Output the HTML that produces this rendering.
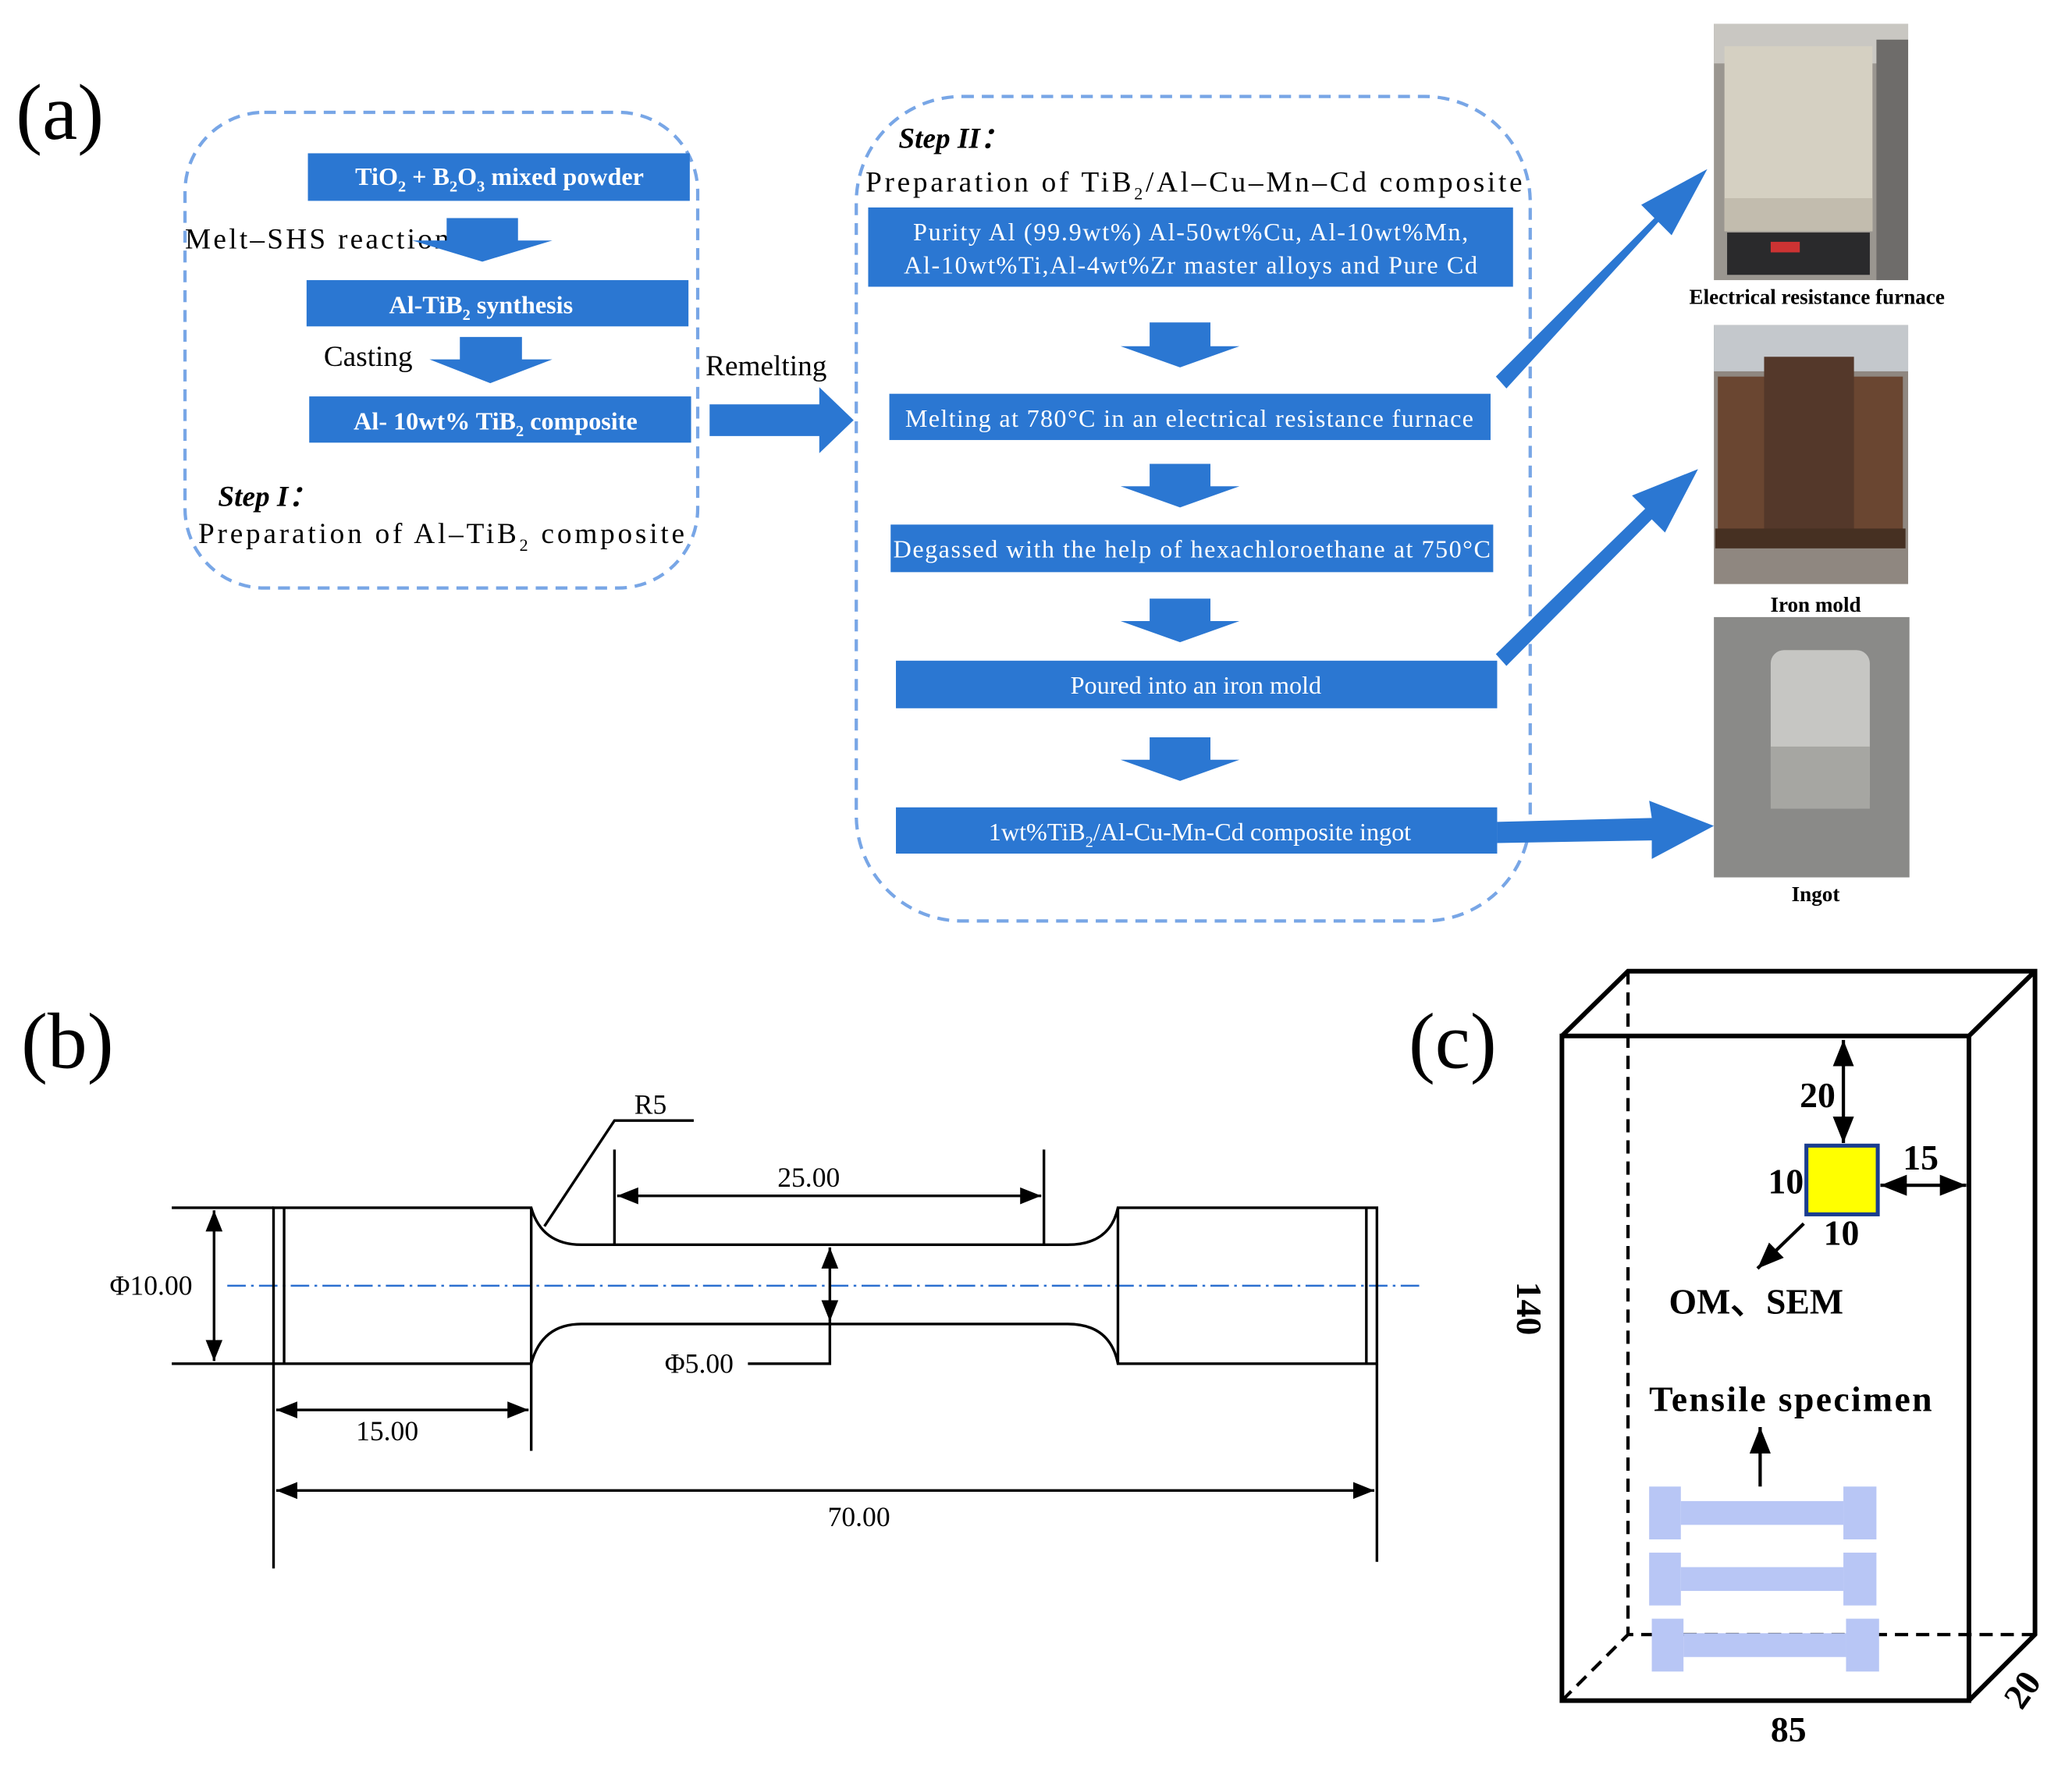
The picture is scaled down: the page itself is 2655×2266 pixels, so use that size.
<!DOCTYPE html>
<html><head><meta charset="utf-8"><style>
html,body{margin:0;padding:0;background:#fff}
svg{display:block}
text{font-family:"Liberation Serif",serif}
.bx{fill:#2b77d2}
.wt{fill:#fff;font-size:19px;font-family:"Liberation Serif",serif}
.wb{fill:#fff;font-size:19px;font-weight:bold;font-family:"Liberation Serif",serif}
.ln{stroke:#000;stroke-width:2;fill:none}
.dm{stroke:#000;stroke-width:2;fill:none}
</style></head><body>
<svg width="2655" height="2266" viewBox="0 0 1568 1338" preserveAspectRatio="none" xmlns="http://www.w3.org/2000/svg">
<defs>
<marker id="ah" viewBox="0 0 10 10" refX="10" refY="5" markerWidth="8" markerHeight="8" orient="auto-start-reverse"><path d="M0,1 L10,5 L0,9 Z" fill="#000"/></marker>
</defs>
<!-- (a) -->
<text x="12" y="105" font-size="60">(a)</text>
<rect x="140" y="85" width="388" height="360" rx="60" fill="none" stroke="#78a6e6" stroke-width="2.5" stroke-dasharray="9,6"/>
<rect class="bx" x="233" y="116" width="289" height="36"/>
<text class="wb" x="378" y="140" text-anchor="middle">TiO<tspan font-size="12" dy="5">2</tspan><tspan dy="-5"> + B</tspan><tspan font-size="12" dy="5">2</tspan><tspan dy="-5">O</tspan><tspan font-size="12" dy="5">3</tspan><tspan dy="-5"> mixed powder</tspan></text>
<text x="140" y="188" font-size="22" textLength="200">Melt–SHS reaction</text>
<path class="bx" d="M338,165 H392 V182 H418 L365,198 L312,182 H338 Z"/>
<rect class="bx" x="232" y="212" width="289" height="35"/>
<text class="wb" x="364" y="237" text-anchor="middle">Al-TiB<tspan font-size="12" dy="5">2</tspan><tspan dy="-5"> synthesis</tspan></text>
<text x="245" y="277" font-size="22">Casting</text>
<path class="bx" d="M348,255 H395 V272 H418 L371,290 L325,272 H348 Z"/>
<rect class="bx" x="234" y="300" width="289" height="35"/>
<text class="wb" x="375" y="325" text-anchor="middle">Al- 10wt% TiB<tspan font-size="12" dy="5">2</tspan><tspan dy="-5"> composite</tspan></text>
<text x="165" y="383" font-size="22" font-weight="bold" font-style="italic">Step I：</text>
<text x="150" y="411" font-size="22" textLength="368" lengthAdjust="spacing">Preparation of Al–TiB<tspan font-size="13" dy="6">2</tspan><tspan dy="-6"> composite</tspan></text>
<text x="534" y="284" font-size="22">Remelting</text>
<path class="bx" d="M537,306 H620 V293 L646,318 L620,343 V330 H537 Z"/>

<rect x="648" y="73" width="510" height="624" rx="80" fill="none" stroke="#78a6e6" stroke-width="2.5" stroke-dasharray="9,6"/>
<text x="680" y="112" font-size="22" font-weight="bold" font-style="italic">Step II：</text>
<text x="655" y="145" font-size="22" textLength="497" lengthAdjust="spacing">Preparation of TiB<tspan font-size="13" dy="6">2</tspan><tspan dy="-6">/Al–Cu–Mn–Cd composite</tspan></text>
<rect class="bx" x="657" y="157" width="488" height="60"/>
<text class="wt" x="901" y="182" text-anchor="middle" textLength="420">Purity Al (99.9wt%) Al-50wt%Cu, Al-10wt%Mn,</text>
<text class="wt" x="901" y="207" text-anchor="middle" textLength="434">Al-10wt%Ti,Al-4wt%Zr master alloys and Pure Cd</text>
<path class="bx" d="M870,244 H916 V262 H938 L893,278 L848,262 H870 Z"/>
<rect class="bx" x="673" y="298" width="455" height="35"/>
<text class="wt" x="900" y="323" text-anchor="middle" textLength="430">Melting at 780°C in an electrical resistance furnace</text>
<path class="bx" d="M870,351 H916 V368 H938 L893,384 L848,368 H870 Z"/>
<rect class="bx" x="674" y="397" width="456" height="36"/>
<text class="wt" x="902" y="422" text-anchor="middle" textLength="452">Degassed with the help of hexachloroethane at 750°C</text>
<path class="bx" d="M870,453 H916 V470 H938 L893,486 L848,470 H870 Z"/>
<rect class="bx" x="678" y="500" width="455" height="36"/>
<text class="wt" x="905" y="525" text-anchor="middle">Poured into an iron mold</text>
<path class="bx" d="M870,558 H916 V575 H938 L893,591 L848,575 H870 Z"/>
<rect class="bx" x="678" y="611" width="455" height="35"/>
<text class="wt" x="908" y="636" text-anchor="middle">1wt%TiB<tspan font-size="12" dy="5">2</tspan><tspan dy="-5">/Al-Cu-Mn-Cd  composite ingot</tspan></text>
<!-- big arrows -->
<path class="bx" d="M1132,285 L1252,165 L1242,155 L1292,128 L1265,178 L1255,168 L1140,294 Z"/>
<path class="bx" d="M1132,495 L1245,385 L1235,375 L1285,355 L1260,403 L1250,393 L1140,504 Z"/>
<path class="bx" d="M1133,622 L1250,619 L1248,606 L1297,625 L1250,650 L1250,636 L1133,638 Z"/>
<!-- photos -->
<rect x="1297" y="18" width="147" height="194" fill="#9a9690"/>
<rect x="1297" y="18" width="147" height="30" fill="#c9c7c2"/>
<rect x="1305" y="35" width="112" height="140" fill="#d5d0c2"/>
<rect x="1305" y="150" width="112" height="25" fill="#c2bcae"/>
<rect x="1307" y="176" width="108" height="32" fill="#2a2a2c"/>
<rect x="1340" y="183" width="22" height="8" fill="#c33"/>
<rect x="1420" y="30" width="24" height="182" fill="#6e6c6a"/>
<rect x="1297" y="246" width="147" height="196" fill="#8f8780"/>
<rect x="1297" y="246" width="147" height="35" fill="#c4c8cc"/>
<rect x="1300" y="285" width="140" height="120" fill="#6a4631"/>
<rect x="1335" y="270" width="68" height="140" fill="#54382a"/>
<rect x="1298" y="400" width="144" height="15" fill="#463022"/>
<rect x="1297" y="467" width="148" height="197" fill="#8a8a88"/>
<rect x="1340" y="492" width="75" height="120" rx="10" fill="#c6c6c3"/>
<rect x="1340" y="565" width="75" height="47" fill="#a6a6a2"/>
<text x="1375" y="230" font-size="16" font-weight="bold" text-anchor="middle">Electrical resistance furnace</text>
<text x="1374" y="463" font-size="16" font-weight="bold" text-anchor="middle">Iron mold</text>
<text x="1374" y="682" font-size="16" font-weight="bold" text-anchor="middle">Ingot</text>

<!-- (b) -->
<text x="16" y="808" font-size="60">(b)</text>
<line x1="172" y1="973" x2="1075" y2="973" stroke="#2b6fd0" stroke-width="1.5" stroke-dasharray="14,4,2,4"/>
<path class="ln" d="M207,914 H402 Q410,942 440,942 H808 Q840,942 846,914 H1042 V1032 H846 Q840,1002 808,1002 H440 Q410,1002 402,1032 H207 Z"/>
<line class="ln" x1="215" y1="914" x2="215" y2="1032"/>
<line class="ln" x1="402" y1="914" x2="402" y2="1032"/>
<line class="ln" x1="846" y1="914" x2="846" y2="1032"/>
<line class="ln" x1="1034" y1="914" x2="1034" y2="1032"/>
<line class="dm" x1="130" y1="914" x2="207" y2="914"/>
<line class="dm" x1="130" y1="1032" x2="207" y2="1032"/>
<line class="dm" x1="162" y1="916" x2="162" y2="1030" marker-start="url(#ah)" marker-end="url(#ah)"/>
<text x="83" y="980" font-size="21">Φ10.00</text>
<line class="dm" x1="465" y1="870" x2="465" y2="942"/>
<line class="dm" x1="790" y1="870" x2="790" y2="942"/>
<line class="dm" x1="467" y1="905" x2="788" y2="905" marker-start="url(#ah)" marker-end="url(#ah)"/>
<text x="612" y="898" font-size="21" text-anchor="middle">25.00</text>
<path class="dm" d="M412,928 L465,848 H525"/>
<text x="480" y="843" font-size="21">R5</text>
<line class="dm" x1="628" y1="944" x2="628" y2="1000" marker-start="url(#ah)" marker-end="url(#ah)"/>
<path class="dm" d="M628,1000 V1032 H566"/>
<text x="503" y="1039" font-size="21">Φ5.00</text>
<line class="dm" x1="207" y1="1032" x2="207" y2="1187"/>
<line class="dm" x1="402" y1="1032" x2="402" y2="1098"/>
<line class="dm" x1="209" y1="1067" x2="400" y2="1067" marker-start="url(#ah)" marker-end="url(#ah)"/>
<text x="293" y="1090" font-size="21" text-anchor="middle">15.00</text>
<line class="dm" x1="1042" y1="1032" x2="1042" y2="1182"/>
<line class="dm" x1="209" y1="1128" x2="1040" y2="1128" marker-start="url(#ah)" marker-end="url(#ah)"/>
<text x="650" y="1155" font-size="21" text-anchor="middle">70.00</text>

<!-- (c) -->
<text x="1066" y="808" font-size="60">(c)</text>
<g stroke="#000" stroke-width="3.5" fill="none">
<rect x="1182" y="784" width="308" height="503"/>
<path d="M1182,784 L1232,735 H1540 V1237 L1490,1287 M1490,784 L1540,735"/>
<path d="M1232,735 V1237 H1540 M1182,1287 L1232,1237" stroke-dasharray="10,6" stroke-width="2.5"/>
</g>
<line x1="1332" y1="1125" x2="1332" y2="1080" stroke="#000" stroke-width="2.5" marker-end="url(#ah)"/>
<g fill="#b8c6f5">
<rect x="1248" y="1125" width="24" height="40"/><rect x="1395" y="1125" width="25" height="40"/><rect x="1272" y="1136" width="123" height="18"/>
<rect x="1248" y="1175" width="24" height="40"/><rect x="1395" y="1175" width="25" height="40"/><rect x="1272" y="1186" width="123" height="18"/>
<rect x="1250" y="1225" width="24" height="40"/><rect x="1397" y="1225" width="25" height="40"/><rect x="1274" y="1236" width="123" height="18"/>
</g>
<rect x="1367" y="867" width="54" height="52" fill="#ffff00" stroke="#1a3d8f" stroke-width="3"/>
<line x1="1395" y1="787" x2="1395" y2="865" stroke="#000" stroke-width="2.5" marker-start="url(#ah)" marker-end="url(#ah)"/>
<line x1="1423" y1="897" x2="1488" y2="897" stroke="#000" stroke-width="2.5" marker-start="url(#ah)" marker-end="url(#ah)"/>
<line x1="1365" y1="926" x2="1330" y2="960" stroke="#000" stroke-width="2.5" marker-end="url(#ah)"/>
<g font-size="27" font-weight="bold">
<text x="1362" y="838">20</text>
<text x="1440" y="885">15</text>
<text x="1338" y="903">10</text>
<text x="1380" y="942">10</text>
<text x="1263" y="994">OM、SEM</text>
<text x="1248" y="1068" textLength="214">Tensile specimen</text>
<text x="1340" y="1318">85</text>
<text transform="translate(1148,970) rotate(90)">140</text>
<text transform="translate(1530,1295) rotate(-55)">20</text>
</g>
</svg>
</body></html>
